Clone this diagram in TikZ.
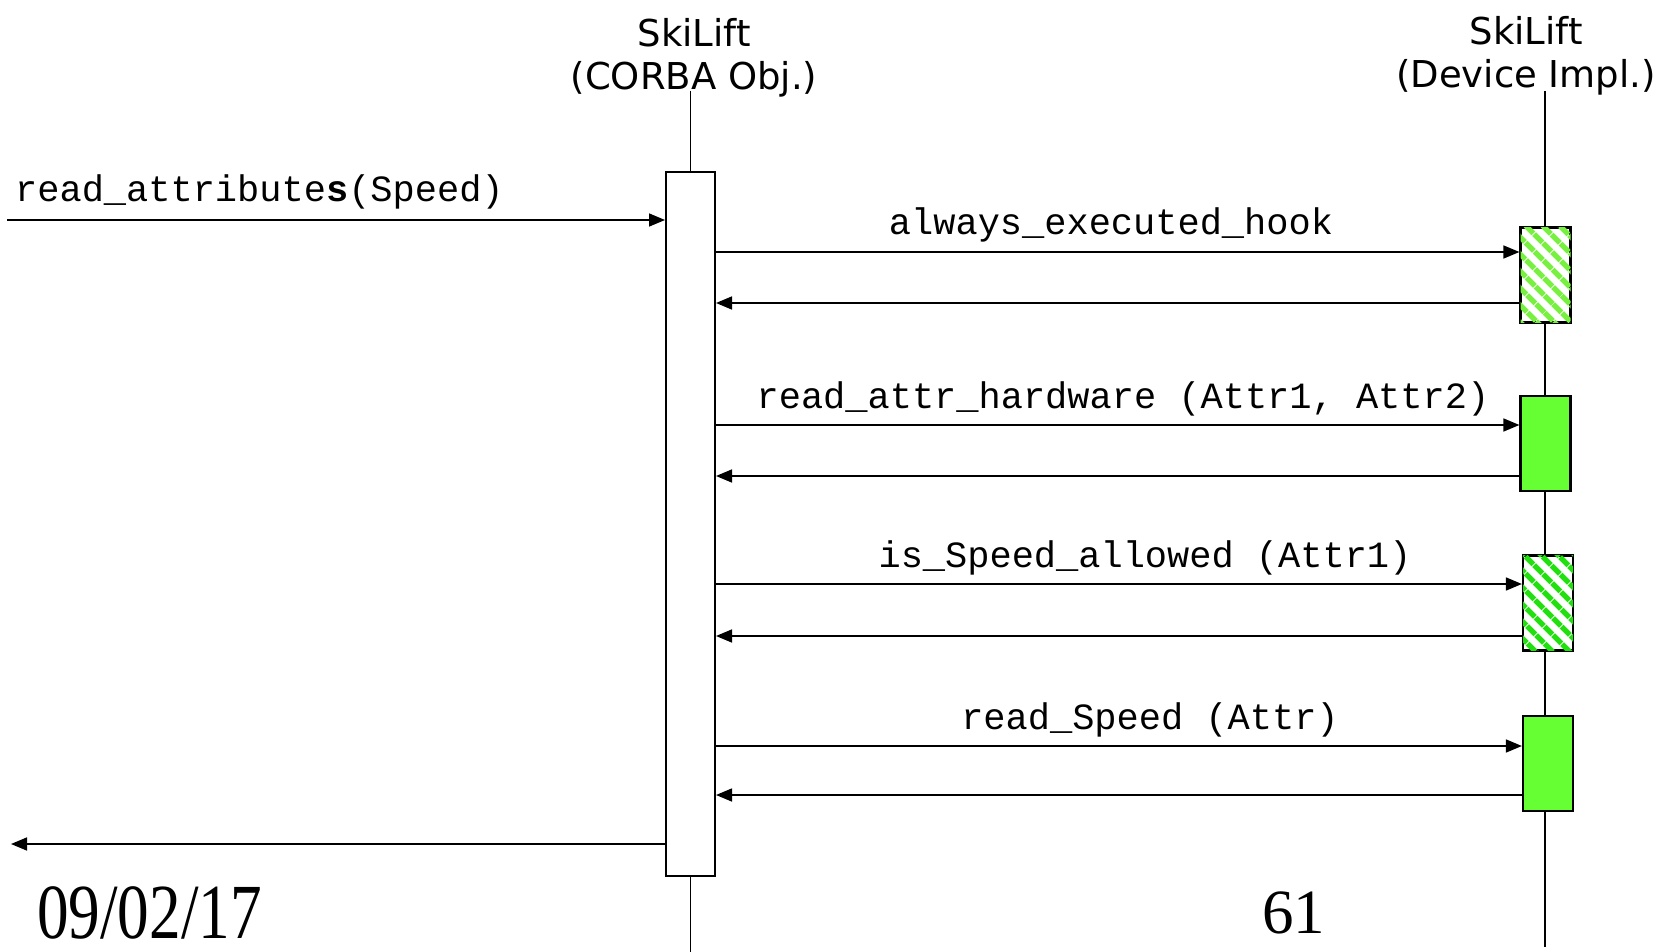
\documentclass[tikz,border=0pt]{standalone}
\usepackage{fontspec}
\setmainfont{Liberation Serif}
\newfontfamily\hdrfont{DejaVu Sans}
\newfontfamily\codefont{Liberation Mono}
\usetikzlibrary{arrows.meta,patterns.meta}
\definecolor{limefill}{HTML}{66FF33}
\definecolor{hatchA}{HTML}{77F040}
\definecolor{hatchB}{HTML}{22E010}
\begin{document}
\begin{tikzpicture}[x=1pt,y=-1pt,
  life/.style={line width=1.6pt},
  actbox/.style={draw, line width=2pt, fill=white, inner sep=0pt, minimum width=49pt},
  devbox/.style={draw, line width=2.2pt, inner sep=0pt, minimum width=50pt, minimum height=95pt},
  solidbox/.style={devbox, fill=limefill},
  hatchboxA/.style={devbox, fill=white, postaction={pattern={Lines[angle=-45,distance=13pt,line width=6pt]}, pattern color=hatchA}},
  hatchboxB/.style={devbox, fill=white, postaction={pattern={Lines[angle=-45,distance=13pt,line width=6pt]}, pattern color=hatchB}},
  msg/.style={line width=1.6pt, -{Triangle[length=16pt,width=13pt]}},
  hdr/.style={inner sep=0pt, align=center, font=\hdrfont\fontsize{37}{43}\selectfont},
  code/.style={inner sep=0pt, anchor=base, font=\codefont\fontsize{37}{40}\selectfont},
]
\useasboundingbox (0,0) rectangle (1663,952);

% headers
\node[hdr, anchor=base] (h1) at (694,90) {SkiLift\\(CORBA Obj.)};
\node[hdr, anchor=base] (h2) at (1526,88) {SkiLift\\(Device Impl.)};

% lifelines
\coordinate (l1top) at (690.5,91);
\coordinate (l1bot) at (690.5,952);
\coordinate (l2top) at (1545,91);
\coordinate (l2bot) at (1545,947);
\draw[life] (l1top) -- (l1bot);
\draw[life] (l2top) -- (l2bot);

% activation boxes
\node[actbox, minimum height=704pt] (act) at (690.5,524) {};
\node[hatchboxA] (b1) at (1545.5,275) {};
\node[solidbox]  (b2) at (1545.5,443.5) {};
\node[hatchboxB] (b3) at (1548,603) {};
\node[solidbox]  (b4) at (1548,763.5) {};

% external call
\coordinate (in) at (7,220);
\coordinate (out) at (11,844);
\draw[msg] (in) -- (in -| act.west);
\node[code, anchor=base west] (lin) at (15,202) {read\_attribute\textbf{s}(Speed)};
\draw[msg] (act.west |- out) -- (out);

% calls
\coordinate (y1) at (0,252);  \coordinate (r1) at (0,303);
\coordinate (y2) at (0,425);  \coordinate (r2) at (0,476);
\coordinate (y3) at (0,584);  \coordinate (r3) at (0,636);
\coordinate (y4) at (0,746);  \coordinate (r4) at (0,795);

\draw[msg] (act.east |- y1) -- (b1.west |- y1);
\draw[msg] (b1.west |- r1) -- (act.east |- r1);
\node[code] (t1) at (1111,235) {always\_executed\_hook};

\draw[msg] (act.east |- y2) -- (b2.west |- y2);
\draw[msg] (b2.west |- r2) -- (act.east |- r2);
\node[code] (t2) at (1123,408) {read\_attr\_hardware (Attr1, Attr2)};

\draw[msg] (act.east |- y3) -- (b3.west |- y3);
\draw[msg] (b3.west |- r3) -- (act.east |- r3);
\node[code] (t3) at (1145,567) {is\_Speed\_allowed (Attr1)};

\draw[msg] (act.east |- y4) -- (b4.west |- y4);
\draw[msg] (b4.west |- r4) -- (act.east |- r4);
\node[code] (t4) at (1150,729) {read\_Speed (Attr)};

% footer
\node[inner sep=0pt, anchor=base west, xscale=0.81, font=\fontsize{78}{80}\selectfont] (date) at (37,938) {09/02/17};
\node[inner sep=0pt, anchor=base west, font=\fontsize{63}{66}\selectfont] (page) at (1262,933) {61};
\end{tikzpicture}
\end{document}
